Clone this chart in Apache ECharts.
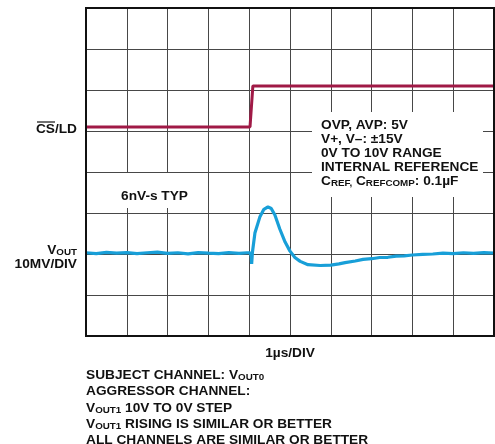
<!DOCTYPE html>
<html>
<head>
<meta charset="utf-8">
<script src="https://cdn.jsdelivr.net/npm/echarts@6/dist/echarts.min.js"></script>
<style>
  html, body { margin: 0; padding: 0; background: #fff; }
  #chart { width: 495px; height: 444px; }
</style>
</head>
<body>
<div id="chart"></div>
<script>
// Time axis: 1 µs per division, 10 divisions
var timeDivs = [0, 10];
// CS/LD logic trace (volts, 5 V per division)
var csTime = [0, 4.02, 4.09, 10];
var csVolts = [0, 0, 5, 5];
// VOUT glitch trace (mV, 10 mV per division)
var voutTime = [0, 0.25, 0.5, 0.75, 1.0, 1.25, 1.5, 1.75, 2.0, 2.25, 2.5, 2.75, 3.0, 3.25, 3.5, 3.75, 3.95, 4.02,
  4.05, 4.06, 4.08, 4.14, 4.26, 4.36, 4.46, 4.54, 4.63, 4.75, 4.88, 5.0, 5.12, 5.25, 5.44, 5.74, 6.0, 6.2, 6.35,
  6.6, 6.79, 7.0, 7.2, 7.4, 7.6, 7.8, 8.0, 8.25, 8.5, 8.75, 9.0, 9.25, 9.5, 9.75, 10];
var voutMv = [0.3, 0.1, 0.4, 0.2, 0.35, 0.1, 0.3, 0.45, 0.15, 0.3, 0.05, 0.35, 0.2, 0.1, 0.35, 0.15, 0.3, 0.3,
  -0.5, -2.4, 0.5, 5.1, 9.0, 10.9, 11.5, 11.1, 9.5, 6.1, 2.9, 0.7, -0.85, -1.8, -2.6, -2.8, -2.7, -2.4, -2.1,
  -1.7, -1.3, -1.15, -0.85, -0.8, -0.5, -0.45, -0.25, -0.1, 0.0, 0.2, 0.1, 0.3, 0.15, 0.35, 0.25];
// Text (rich-text tokens: v = normal, s = subscript)
var csLabel = 'CS/LD';
var voutLabel = '{v|V}{s|OUT}';
var voutScale = '10MV/DIV';
var glitchLabel = '6nV-s TYP';
var timeLabel = '1µs/DIV';
var conditions = ['{v|OVP, AVP: 5V}', '{v|V+, V–: ±15V}', '{v|0V TO 10V RANGE}', '{v|INTERNAL REFERENCE}',
  '{v|C}{s|REF,}{v| C}{s|REFCOMP}{v|: 0.1µF}'];
var notes = ['{v|SUBJECT CHANNEL: V}{s|OUT0}', '{v|AGGRESSOR CHANNEL:}', '{v|V}{s|OUT1}{v| 10V TO 0V STEP}',
  '{v|V}{s|OUT1}{v| RISING IS SIMILAR OR BETTER}', '{v|ALL CHANNELS ARE SIMILAR OR BETTER}'];

var FAM = '"Liberation Sans", Arial, Helvetica, sans-serif';
var FS = 13.7;
function makeRich(lh) {
  var r = {
    v: { fontFamily: FAM, fontWeight: 'bold', fontSize: FS, fill: '#111' },
    s: { fontFamily: FAM, fontWeight: 'bold', fontSize: 9.8, fill: '#111', padding: [5, 0, 0, 0] }
  };
  if (lh) { r.v.lineHeight = lh; r.s.lineHeight = lh; }
  return r;
}
function zip(a, b) { return a.map(function (v, i) { return [v, b[i]]; }); }

var chart = echarts.init(document.getElementById('chart'), null, { renderer: 'canvas' });
var gridLine = { show: true, lineStyle: { color: '#474747', width: 1 } };
var font = 'bold ' + FS + 'px ' + FAM;

chart.setOption({
  animation: false,
  backgroundColor: '#fff',
  grid: { left: 86, right: 1, top: 8, bottom: 108 },
  xAxis: {
    type: 'value', min: timeDivs[0], max: timeDivs[1], interval: 1,
    axisLine: { show: true, onZero: false, lineStyle: { color: '#111', width: 2 } },
    axisTick: { show: false }, axisLabel: { show: false }, splitLine: gridLine
  },
  yAxis: [
    {
      type: 'value', min: -20, max: 60, interval: 10,
      axisLine: { show: true, onZero: false, lineStyle: { color: '#111', width: 1.5 } },
      axisTick: { show: false }, axisLabel: { show: false }, splitLine: gridLine
    },
    { type: 'value', min: -25.5, max: 14.5, show: false, splitLine: { show: false } }
  ],
  series: [
    {
      type: 'line', yAxisIndex: 1, data: zip(csTime, csVolts), showSymbol: false,
      lineStyle: { color: '#A01A46', width: 3 }, z: 5
    },
    {
      type: 'line', yAxisIndex: 0, data: zip(voutTime, voutMv), showSymbol: false,
      lineStyle: { color: '#189FD8', width: 3.2 }, z: 6
    }
  ],
  graphic: [
    { type: 'rect', z: 50, shape: { x: 88, y: 173, width: 117, height: 35 }, style: { fill: '#fff' } },
    { type: 'rect', z: 50, shape: { x: 312, y: 112, width: 171, height: 85 }, style: { fill: '#fff' } },
    { type: 'rect', z: 55, shape: { x: 86, y: 8, width: 408, height: 328 },
      style: { fill: null, stroke: '#111', lineWidth: 2 } },
    { type: 'text', z: 60, style: { text: csLabel, x: 77, y: 129, align: 'right', verticalAlign: 'middle', font: font, fill: '#111' } },
    { type: 'line', z: 60, shape: { x1: 37, y1: 122, x2: 55, y2: 122 }, style: { stroke: '#111', lineWidth: 1.2 } },
    { type: 'text', z: 60, style: { text: voutLabel, rich: makeRich(), x: 77, y: 250, align: 'right', verticalAlign: 'middle' } },
    { type: 'text', z: 60, style: { text: voutScale, x: 77, y: 264, align: 'right', verticalAlign: 'middle', font: font, fill: '#111' } },
    { type: 'text', z: 60, style: { text: glitchLabel, x: 154.5, y: 196, align: 'center', verticalAlign: 'middle', font: font, fill: '#111' } },
    { type: 'text', z: 60, style: { text: timeLabel, x: 290, y: 353, align: 'center', verticalAlign: 'middle', font: font, fill: '#111' } },
    { type: 'text', z: 60, style: { text: conditions.join('\n'), rich: makeRich(14), x: 321, y: 118, align: 'left', verticalAlign: 'top' } },
    { type: 'text', z: 60, style: { text: notes.join('\n'), rich: makeRich(16.3), x: 86, y: 367, align: 'left', verticalAlign: 'top' } }
  ]
});
</script>
</body>
</html>
